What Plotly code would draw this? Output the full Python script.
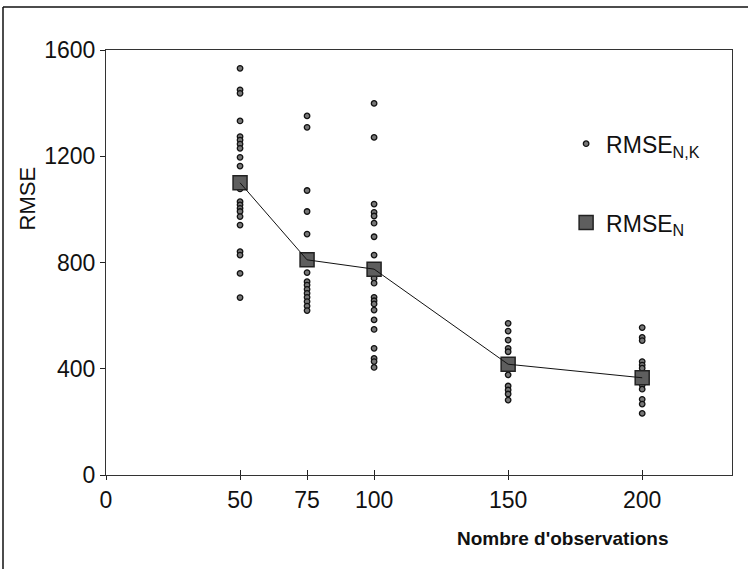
import plotly.graph_objects as go

# ---- data ----
n_obs = [50, 75, 100, 150, 200]
rmse_nk_50 = [1531, 1450, 1437, 1333, 1274, 1261, 1246, 1230, 1196, 1163, 1077,
              1029, 1017, 1004, 992, 973, 941, 841, 828, 759, 668]
rmse_nk_75 = [1352, 1309, 1071, 992, 907, 762, 728, 715, 699, 684, 669, 653, 636, 619]
rmse_nk_100 = [1399, 1271, 1020, 989, 975, 948, 897, 828, 741, 722, 669, 656,
               644, 621, 584, 548, 477, 439, 427, 405]
rmse_nk_150 = [571, 542, 508, 477, 464, 377, 335, 320, 305, 282]
rmse_nk_200 = [555, 518, 506, 427, 414, 402, 339, 323, 285, 267, 232]
rmse_n = [1100, 810, 775, 417, 366]
x_ticks = [0, 50, 75, 100, 150, 200]
y_ticks = [0, 400, 800, 1200, 1600]

groups = [rmse_nk_50, rmse_nk_75, rmse_nk_100, rmse_nk_150, rmse_nk_200]
dots_x, dots_y = [], []
for n, vals in zip(n_obs, groups):
    dots_x += [n] * len(vals)
    dots_y += vals

FONT = "Liberation Sans, Arial, sans-serif"
XR = [0, 233.5]
YR = [0, 1600]

fig = go.Figure()
fig.add_trace(go.Scatter(
    x=n_obs, y=rmse_n, mode="lines", line=dict(color="#111", width=1),
    showlegend=False, xaxis="x2", hoverinfo="skip"))
fig.add_trace(go.Scatter(
    x=dots_x, y=dots_y, mode="markers", name="RMSE<sub>N,K</sub>",
    legendgroup="a",
    marker=dict(symbol="circle", size=5.5, color="#777",
                line=dict(color="#111", width=1.3))))
fig.add_trace(go.Scatter(
    x=n_obs, y=rmse_n, mode="markers", name="RMSE<sub>N</sub>",
    legendgroup="b",
    marker=dict(symbol="square", size=14, color="#5e5e5e",
                line=dict(color="#222", width=1.5))))

fig.update_layout(
    width=748, height=569,
    margin=dict(l=106, r=16, t=50, b=94),
    paper_bgcolor="white", plot_bgcolor="white",
    font=dict(family=FONT, color="#111"),
    xaxis=dict(range=XR, tickvals=x_ticks, ticks="outside", ticklen=4,
               tickcolor="#222", tickwidth=1, showgrid=False, zeroline=False,
               showline=True, linecolor="#333", linewidth=1, mirror=True,
               tickfont=dict(size=23, family=FONT, color="#111")),
    xaxis2=dict(range=XR, overlaying="x", side="bottom", tickvals=x_ticks,
                ticks="inside", ticklen=5, tickcolor="#222",
                showticklabels=False, showgrid=False, zeroline=False,
                showline=False),
    yaxis=dict(range=YR, tickvals=y_ticks, ticks="outside", ticklen=5,
               tickcolor="#222", showgrid=False, zeroline=False,
               showline=True, linecolor="#333", linewidth=1, mirror=True,
               tickfont=dict(size=23, family=FONT, color="#111")),
    legend=dict(x=0.735, y=0.83, xanchor="left", yanchor="top",
                bgcolor="rgba(0,0,0,0)", font=dict(size=23, family=FONT, color="#111"),
                tracegroupgap=46, traceorder="grouped", itemsizing="trace"),
    showlegend=True,
)

fig.add_annotation(text="RMSE", xref="paper", yref="paper",
                   x=(26.5 - 106) / 626, y=(475 - 198) / 425, textangle=-90,
                   xanchor="center", yanchor="middle",
                   showarrow=False, font=dict(size=22, family=FONT, color="#111"))
fig.add_annotation(text="<b>Nombre d'observations</b>", xref="paper", yref="paper",
                   x=(562 - 106) / 626, y=(475 - 538) / 425,
                   xanchor="center", yanchor="middle",
                   showarrow=False, font=dict(size=19, family=FONT, color="#111"))

# outer frame (cropped: only top and left edges visible)
fig.add_shape(type="line", xref="paper", yref="paper",
              x0=(3 - 106) / 626, x1=1.2, y0=(475 - 7) / 425, y1=(475 - 7) / 425,
              line=dict(color="#111", width=1.5))
fig.add_shape(type="line", xref="paper", yref="paper",
              x0=(3 - 106) / 626, x1=(3 - 106) / 626, y0=(475 - 7) / 425, y1=-0.3,
              line=dict(color="#111", width=1.5))

fig.write_html("out.html", config={"displayModeBar": False},
               post_script="document.body.style.margin='0';document.body.style.overflow='hidden';")
